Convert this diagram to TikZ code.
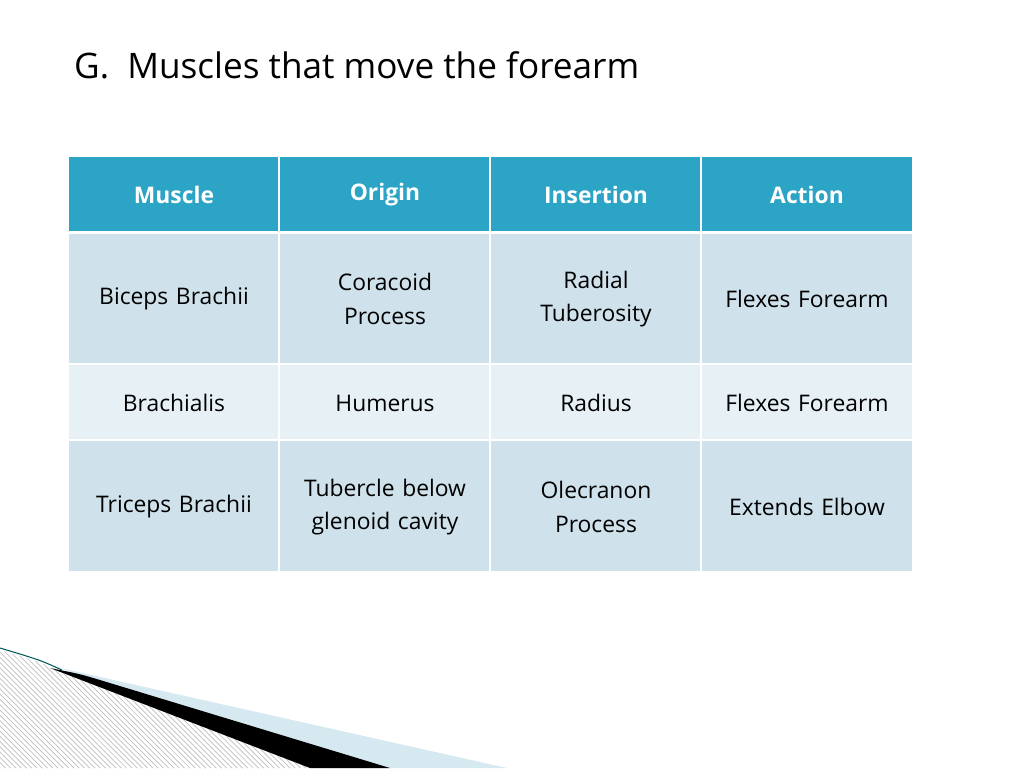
\documentclass[tikz,border=0pt]{standalone}
\usepackage{fontspec}
\setmainfont{Open Sans}
\usetikzlibrary{patterns}
\definecolor{headblue}{HTML}{2CA4C5}
\definecolor{rowdark}{HTML}{CFE1EB}
\definecolor{rowlight}{HTML}{E7F0F5}
\definecolor{wedgeblue}{HTML}{D6E9F1}
\tikzset{
  cell/.style={anchor=center,align=center,text width=190*0.02cm,font=\fontsize{13}{19}\selectfont},
  head/.style={cell,text=white,font=\fontsize{13}{19}\selectfont\bfseries}
}
\begin{document}
\begin{tikzpicture}[x=0.02cm,y=-0.02cm]
	\useasboundingbox (0,0) rectangle (1024,768);
	\node[anchor=west,font=\fontsize{20}{24}\selectfont] (title) at (68,65) {G.\ \ Muscles that move the forearm};
	
	% table backgrounds
	\fill[headblue] (69,157) rectangle (912,231);
	\fill[rowdark] (69,234) rectangle (912,363);
	\fill[rowlight] (69,365) rectangle (912,439);
	\fill[rowdark] (69,441) rectangle (912,571);
	\foreach \x in {279,490,701} {
		\draw[white,line width=1.2pt] (\x,157) -- (\x,571);
	}
	
	% header
	\node[head] (h1) at (174,195) {Muscle};
	\node[head] (h2) at (385,195) {Origin};
	\node[head] (h3) at (596,195) {Insertion};
	\node[head] (h4) at (807,195) {Action};
	
	\node[cell] (a1) at (174,299) {Biceps Brachii};
	\node[cell] (a2) at (385,299) {Coracoid\\Process};
	\node[cell] (a3) at (596,299) {Radial\\Tuberosity};
	\node[cell] (a4) at (807,299) {Flexes Forearm};
	
	\node[cell] (b1) at (174,403) {Brachialis};
	\node[cell] (b2) at (385,403) {Humerus};
	\node[cell] (b3) at (596,403) {Radius};
	\node[cell] (b4) at (807,403) {Flexes Forearm};
	
	\node[cell] (c1) at (174,507) {Triceps Brachii};
	\node[cell] (c2) at (385,507) {Tubercle below\\glenoid cavity};
	\node[cell] (c3) at (596,507) {Olecranon\\Process};
	\node[cell] (c4) at (807,507) {Extends Elbow};
	
	% corner decoration
	\fill[wedgeblue] (60,668) -- (507,768) -- (330,768) -- cycle;
	\fill[pattern=north west lines,pattern color=gray!50] (0,650) .. controls (40,662) .. (60,672) -- (310,768) -- (0,768) -- cycle;
	\fill[black] (50,668) .. controls (80,674) .. (100,680) -- (390,768) -- (310,768) -- cycle;
	\draw[teal!70!black,line width=0.6pt] (0,648) .. controls (40,660) .. (62,670);
\end{tikzpicture}
\end{document}
